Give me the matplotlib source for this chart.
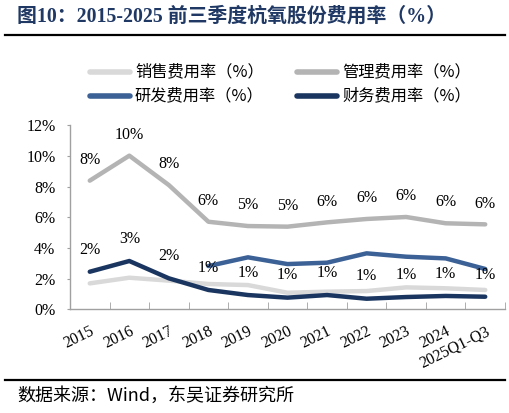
import matplotlib
matplotlib.use("Agg")
import matplotlib.pyplot as plt
from matplotlib.lines import Line2D
import numpy as np

years = ["2015", "2016", "2017", "2018", "2019", "2020", "2021", "2022", "2023", "2024", "2025Q1-Q3"]
sales = [1.69, 2.06, 1.87, 1.65, 1.58, 1.08, 1.15, 1.19, 1.43, 1.37, 1.26]
mgmt = [8.39, 10.02, 8.10, 5.71, 5.43, 5.39, 5.67, 5.89, 6.02, 5.61, 5.54]
rnd = [None, None, None, 2.82, 3.39, 2.95, 3.04, 3.65, 3.43, 3.32, 2.63]
fin = [2.45, 3.15, 2.02, 1.26, 0.93, 0.76, 0.93, 0.69, 0.80, 0.87, 0.82]
names = ["销售费用率（%）", "管理费用率（%）", "研发费用率（%）", "财务费用率（%）"]
colors = ["#d9d9d9", "#b4b4b4", "#3c6196", "#1a3660"]
yticks = [0, 2, 4, 6, 8, 10, 12]

SERIF = ["Liberation Serif", "Noto Sans CJK SC"]
CJK = ["Noto Sans CJK SC", "Liberation Serif"]

fig = plt.figure(figsize=(5.10, 4.13), dpi=100)
W, H = 510, 413
ax = fig.add_axes([70 / W, 1 - 309.3 / H, 435 / W, (309.3 - 125.3) / H])

x = np.arange(len(years))
series = [sales, mgmt, rnd, fin]
for vals, c in zip(series, colors):
    v = np.array([np.nan if s is None else s for s in vals], dtype=float)
    ax.plot(x, v, color=c, lw=3.2, solid_capstyle="round", solid_joinstyle="round")

for xi, v in zip(x, mgmt):
    ax.annotate(f"{round(v):d}%", (xi, v), xytext=(0, 15), textcoords="offset points",
                ha="center", va="center", fontsize=11.5, family=SERIF)
for xi, v in zip(x, fin):
    ax.annotate(f"{int(round(v - 0.001)):d}%", (xi, v), xytext=(0, 16), textcoords="offset points",
                ha="center", va="center", fontsize=11.5, family=SERIF)

ax.set_xlim(-0.5, len(years) - 0.5)
ax.set_ylim(0, 12)
ax.set_yticks(yticks)
ax.set_yticklabels([f"{t}%" for t in yticks], family=SERIF, fontsize=11.5)
ax.set_xticks(x)
ax.set_xticklabels(years, rotation=26, ha="right", rotation_mode="anchor", family=SERIF, fontsize=11.5)
ax.set_xticks(np.arange(len(years) + 1) - 0.5, minor=True)
ax.tick_params(axis="x", which="major", length=0, pad=10)
ax.tick_params(axis="x", which="minor", length=5, direction="in", color="#a0a0a0")
ax.tick_params(axis="y", length=2.5, color="#a0a0a0", pad=8)
for s in ["top", "right"]:
    ax.spines[s].set_visible(False)
for s in ["left", "bottom"]:
    ax.spines[s].set_color("#a0a0a0")
    ax.spines[s].set_linewidth(1.0)

# Title and rules
fig.text(17 / W, 1 - 17 / H, "图10：2015-2025 前三季度杭氧股份费用率（%）", fontsize=14.3,
         fontweight="bold", color="#1f3864", family=SERIF, va="center", ha="left")
fig.add_artist(Line2D([5 / W, 505 / W], [1 - 35 / H, 1 - 35 / H], color="black", lw=1.6))
fig.add_artist(Line2D([5 / W, 505 / W], [1 - 380 / H, 1 - 380 / H], color="black", lw=1.6))
fig.text(17 / W, 1 - 396 / H, "数据来源：Wind，东吴证券研究所", fontsize=13, family=CJK,
         va="center", ha="left")

# Legend
pos = [(90, 72), (297, 72), (90, 96), (297, 96)]
for (lx, ly), name, c in zip(pos, names, colors):
    fig.add_artist(Line2D([lx / W, (lx + 40) / W], [1 - ly / H, 1 - ly / H], color=c, lw=4,
                          solid_capstyle="round"))
    fig.text((lx + 45) / W, 1 - ly / H, name, fontsize=11.7, family=CJK, va="center", ha="left")

fig.savefig("out.png", dpi=100)
